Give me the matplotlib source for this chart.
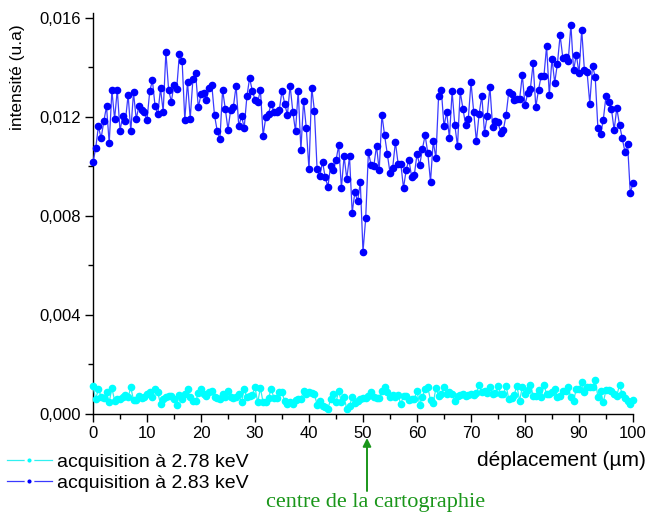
import numpy as np
import matplotlib
matplotlib.use("Agg")
import matplotlib.pyplot as plt
from matplotlib.lines import Line2D
from matplotlib.ticker import MultipleLocator, FuncFormatter

# ---------------- data ----------------
x_um = np.arange(0, 100.5, 0.5)  # sampling positions (µm), 201 points

blue_283 = [  # intensity x 1e-3, acquisition at 2.83 keV
    10.17, 10.74, 11.62, 11.14, 11.82, 12.43, 10.94, 13.07, 11.92, 13.10,
    11.44, 12.03, 11.84, 12.89, 11.44, 12.99, 11.92, 12.43, 12.27, 12.19,
    11.87, 13.03, 13.48, 12.43, 12.11, 13.15, 12.22, 14.63, 13.10, 12.62,
    13.29, 13.14, 14.54, 14.28, 11.88, 13.42, 11.93, 13.52, 13.77, 12.39,
    12.91, 12.95, 12.69, 13.18, 13.29, 12.07, 11.44, 11.09, 13.10, 12.32,
    11.49, 12.30, 12.42, 13.26, 11.62, 12.03, 11.57, 12.83, 13.57, 13.06,
    12.70, 12.59, 13.10, 11.25, 11.99, 12.13, 12.54, 12.22, 12.19, 12.28,
    13.06, 12.54, 12.08, 13.27, 12.22, 11.42, 13.06, 10.66, 12.66, 11.55,
    9.88, 13.19, 12.26, 9.88, 9.61, 10.19, 9.57, 9.18, 10.03, 9.84,
    10.25, 10.85, 9.14, 10.41, 9.50, 10.41, 8.14, 8.97, 8.59, 9.36,
    6.56,
    7.91, 10.59, 10.05, 10.01, 10.83, 9.85, 12.09, 11.26, 10.51, 9.75,
    9.95, 10.99, 10.11, 10.11, 9.13, 9.87, 10.27, 9.59, 9.65, 10.50,
    10.05, 10.71, 11.26, 10.55, 9.38, 11.01, 10.34, 12.86, 13.10, 11.62,
    12.20, 11.14, 13.03, 11.68, 10.82, 13.03, 12.34, 11.69, 11.93, 13.40,
    12.19, 11.01, 12.12, 12.86, 11.36, 12.04, 13.22, 11.60, 11.84, 11.81,
    11.34, 11.49, 12.08, 13.02, 12.94, 12.69, 12.74, 12.72, 13.69, 12.48,
    12.95, 13.14, 14.16, 12.40, 13.09, 13.67, 13.64, 14.87, 12.89, 14.36,
    13.38, 14.15, 15.30, 14.40, 14.41, 14.26, 15.72, 13.88, 14.52, 13.76,
    15.52, 13.89, 13.80, 12.54, 14.07, 13.62, 11.54, 11.30, 11.89, 12.85,
    12.59, 12.34, 11.48, 12.35, 11.69, 11.14, 10.60, 10.89, 8.91, 9.34,
]

cyan_278 = [  # intensity x 1e-3, acquisition at 2.78 keV
    1.14, 0.60, 1.01, 0.70, 0.65, 0.87, 0.47, 1.05, 0.54, 0.60,
    0.62, 0.70, 0.78, 0.67, 1.08, 0.56, 0.56, 0.74, 0.65, 0.67,
    0.81, 0.87, 0.67, 1.01, 0.87, 0.40, 0.60, 0.70, 0.72, 0.74,
    0.60, 0.36, 0.78, 0.60, 0.81, 1.01, 0.67, 0.51, 0.51, 0.83,
    1.01, 0.81, 0.74, 0.87, 0.91, 0.67, 0.65, 0.60, 0.81, 0.70,
    0.94, 0.70, 0.65, 0.67, 0.81, 0.47, 1.01, 0.67, 0.74, 0.78,
    1.08, 0.47, 1.05, 0.47, 0.50, 0.65, 1.01, 0.65, 0.65, 0.87,
    0.87, 0.51, 0.40, 0.47, 0.40, 0.56, 0.60, 0.60, 0.94, 0.81,
    0.87, 0.83, 0.80, 0.38, 0.54, 0.34, 0.27, 0.20, 0.60, 0.81,
    0.47, 0.94, 0.47, 0.67, 0.20, 0.34, 0.67, 0.43, 0.54, 0.60,
    0.65, 0.63, 0.74, 0.87, 0.67, 0.65, 0.65, 0.94, 1.08, 0.87,
    0.70, 0.77, 0.67, 0.78, 0.40, 0.74, 0.74, 0.56, 0.60, 0.62,
    0.91, 0.38, 0.70, 1.01, 1.08, 0.56, 0.43, 1.05, 0.74, 0.81,
    1.10, 0.81, 0.87, 0.81, 0.54, 0.74, 0.78, 0.80, 0.74, 0.78,
    0.81, 0.77, 0.83, 1.18, 0.87, 0.91, 0.85, 1.08, 0.81, 0.83,
    1.14, 0.81, 0.81, 1.14, 0.60, 0.63, 0.78, 1.14, 0.54, 1.08,
    0.81, 0.97, 1.18, 0.74, 0.74, 0.97, 0.67, 1.18, 0.81, 0.81,
    0.87, 1.01, 0.70, 0.72, 0.94, 0.91, 1.08, 0.67, 0.54, 1.01,
    1.01, 1.28, 0.87, 1.08, 1.08, 1.10, 1.37, 0.70, 0.94, 0.47,
    0.97, 0.95, 0.91, 0.81, 0.74, 1.18, 0.81, 0.65, 0.54, 0.40,
    0.56,
]

series_labels = ['acquisition à 2.78 keV', 'acquisition à 2.83 keV']
y_ticks = [0.000, 0.004, 0.008, 0.012, 0.016]
x_ticks = [0, 10, 20, 30, 40, 50, 60, 70, 80, 90, 100]

# ---------------- figure ----------------
plt.rcParams['font.family'] = ['Liberation Sans', 'DejaVu Sans']

W, H = 648, 515
fig = plt.figure(figsize=(W / 100, H / 100), dpi=100)
ax_left, ax_right = 93, 633
ax_bottom, ax_top = 414, 13
ax = fig.add_axes([ax_left / W, (H - ax_bottom) / H,
                   (ax_right - ax_left) / W, (ax_bottom - ax_top) / H])

c_cyan, c_cyan_line = '#00ffff', '#30f0f0'
c_blue, c_blue_line = '#0000ff', '#3a3aff'

ax.plot(x_um, np.array(cyan_278) * 1e-3, '-', color=c_cyan_line, lw=0.9,
        marker='o', ms=4.5, mfc=c_cyan, mec=c_cyan,
        clip_on=False, zorder=3)
ax.plot(x_um, np.array(blue_283) * 1e-3, '-', color=c_blue_line, lw=0.9,
        marker='o', ms=4.5, mfc=c_blue, mec=c_blue,
        clip_on=False, zorder=4)

ax.set_xlim(0, 100)
ax.set_ylim(0, 0.0162)
for s in ('top', 'right'):
    ax.spines[s].set_visible(False)
for s in ('left', 'bottom'):
    ax.spines[s].set_linewidth(1.0)

ax.set_xticks(x_ticks)
ax.xaxis.set_minor_locator(MultipleLocator(5))
ax.set_yticks(y_ticks)
ax.yaxis.set_minor_locator(MultipleLocator(0.002))
ax.yaxis.set_major_formatter(FuncFormatter(lambda v, p: f"{v:.3f}".replace('.', ',')))
ax.tick_params(which='major', direction='out', length=6, width=1.0,
               labelsize=12, pad=3)
ax.tick_params(which='minor', direction='out', length=3.5, width=1.0)

fig.text(18 / W, 1 - 77 / H, 'intensité (u.a)', rotation=90,
         ha='center', va='center', fontsize=12.5)
fig.text(646 / W, 1 - 461 / H, 'déplacement (µm)', ha='right', va='center',
         fontsize=15)

handles = [
    Line2D([], [], color=c_cyan_line, lw=0.9, marker='o', ms=5,
           mfc=c_cyan, mec='white', mew=2.0),
    Line2D([], [], color=c_blue_line, lw=0.9, marker='o', ms=5,
           mfc=c_blue, mec='white', mew=2.0),
]
fig.legend(handles, series_labels, loc='upper left',
           bbox_to_anchor=(5 / W, 1 - 451 / H), frameon=False,
           fontsize=14, handlelength=2.3, handletextpad=0.3,
           labelspacing=0.2, numpoints=1, borderaxespad=0,
           borderpad=0.1)

green = '#1a961a'
fig.text(376 / W, 1 - 503 / H, 'centre de la cartographie', ha='center',
         va='center', fontsize=16, color=green, family='Liberation Serif')
ax.annotate('', xy=(367 / W, 1 - 438 / H), xycoords='figure fraction',
            xytext=(367 / W, 1 - 491 / H), textcoords='figure fraction',
            arrowprops=dict(arrowstyle='-|>', color=green, lw=1.4,
                            mutation_scale=12, shrinkA=0, shrinkB=0),
            annotation_clip=False)

fig.savefig('out.png', dpi=100)
